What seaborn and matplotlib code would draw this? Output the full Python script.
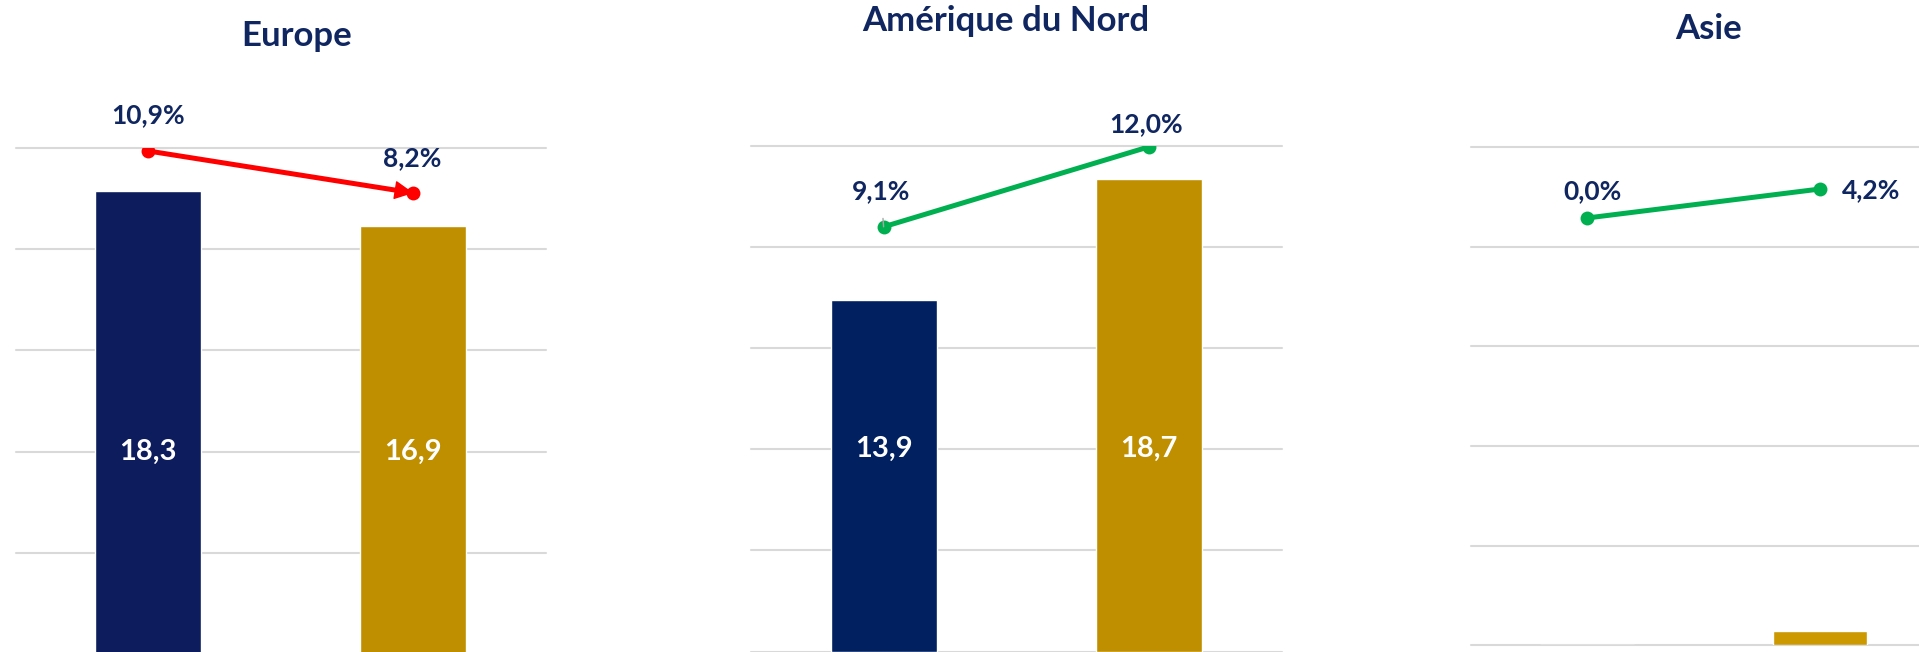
import numpy as np
import matplotlib
matplotlib.use("Agg")
import matplotlib.pyplot as plt
import seaborn as sns

# ---------------- data ----------------
regions = ["Europe", "Amérique du Nord", "Asie"]
periods = ["N-1", "N"]
values_prev = [18.3, 13.9, 0.0]
values_curr = [16.9, 18.7, 0.56]
growth_prev = [10.9, 9.1, 0.0]
growth_curr = [8.2, 12.0, 4.2]
show_bar_labels = [True, True, False]

# ---------------- style ----------------
sns.set_theme(style="white")
plt.rcParams["font.family"] = ["Lato", "DejaVu Sans"]

W, H = 1919, 652
fig = plt.figure(figsize=(W / 100, H / 100), dpi=100)
fig.patch.set_facecolor("white")

NAVY_TXT = "#0f2660"
GRID = "#d9d9d9"
bar_colors = [("#0c1c5c", "#bf8f00"), ("#012060", "#bf8f00"), ("#0c1c5c", "#cc9900")]
line_colors = ["#ff0000", "#00b050", "#00b050"]

# panel geometry in pixels: left, right, top (value 20), baseline (value 0)
panels = [(15.5, 546.0, 148.0, 654.0),
          (751.0, 1281.5, 146.0, 651.5),
          (1470.5, 1936.5, 147.3, 645.3)]
# secondary (percentage) axis limits per panel
sec_limits = [(-21.43, 11.09), (-6.30, 12.03), (-61.88, 10.24)]
# title centres (pixels)
title_pos = [(297, 36), (1006, 21), (1709, 29)]
# label offsets in points (dx, dy) for the two growth labels
pct_offsets = [[(0, 26), (-1, 25)],
               [(-2, 26), (-2, 16)],
               [(4, 19), (37, -1)]]

for i, region in enumerate(regions):
    l, r, t, b = panels[i]
    ax = fig.add_axes([l / W, (H - b) / H, (r - l) / W, (b - t) / H])
    vals = [values_prev[i], values_curr[i]]
    sns.barplot(x=periods, y=vals, hue=periods, palette=list(bar_colors[i]),
                width=0.4, saturation=1, legend=False, ax=ax, zorder=2)
    ax.set_xlim(-0.5, 1.5)
    ax.set_ylim(0, 20)
    ax.set_yticks(np.arange(0, 21, 4))
    ax.set_axisbelow(True)
    ax.grid(axis="y", color=GRID, lw=1.5)
    ax.grid(axis="x", visible=False)
    for gl in ax.get_ygridlines():
        gl.set_clip_on(False)
    ax.set_xlabel("")
    ax.set_ylabel("")
    for s in ax.spines.values():
        s.set_visible(False)
    ax.patch.set_alpha(0)

    if show_bar_labels[i]:
        for k, v in enumerate(vals):
            ax.text(k, 8, f"{v:.1f}".replace(".", ","), ha="center", va="center",
                    color="white", fontsize=21, fontweight="bold")

    # growth line on secondary axis
    ax2 = ax.twinx()
    g = [growth_prev[i], growth_curr[i]]
    sns.lineplot(x=np.arange(len(periods)), y=g, ax=ax2, color=line_colors[i],
                 lw=3.6, marker="o", markersize=10, markeredgewidth=0, sort=False)
    ax2.set_ylim(*sec_limits[i])
    ax2.set_xlim(-0.5, 1.5)
    ax2.axis("off")
    # twinx re-enables left ticks on the host axes; hide them again
    ax.tick_params(left=False, bottom=False, right=False, top=False,
                   labelleft=False, labelbottom=False)

    if i == 0:
        ax2.annotate("", xy=(1, g[1]), xytext=(0, g[0]),
                     arrowprops=dict(arrowstyle="-|>", color=line_colors[i], lw=1,
                                     mutation_scale=30, shrinkA=0, shrinkB=0))

    for k, v in enumerate(g):
        dx, dy = pct_offsets[i][k]
        kw = {}
        if i == 1 and k == 0:
            kw["arrowprops"] = dict(arrowstyle="-", color="#a6a6a6", lw=1,
                                    shrinkA=9, shrinkB=0)
        ax2.annotate(f"{v:.1f}".replace(".", ",") + "%", xy=(k, v),
                     xytext=(dx, dy), textcoords="offset points",
                     ha="center", va="center", color=NAVY_TXT,
                     fontsize=19, fontweight="bold", annotation_clip=False, **kw)

    tx, ty = title_pos[i]
    fig.text(tx / W, 1 - ty / H, region, ha="center", va="center",
             color=NAVY_TXT, fontsize=25, fontweight="bold")

fig.savefig("out.png", dpi=100, facecolor="white")
